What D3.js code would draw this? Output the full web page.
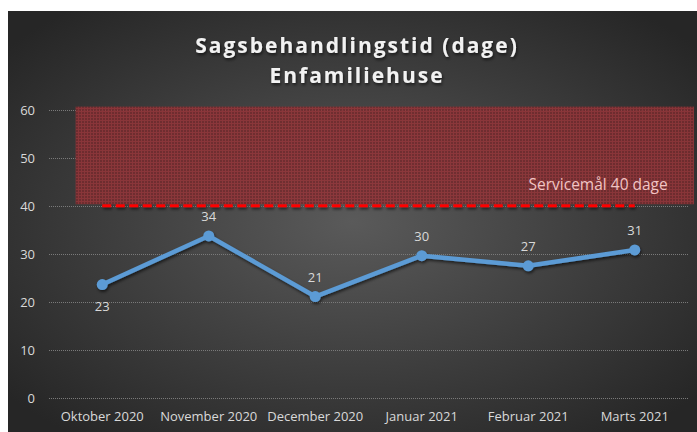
<!DOCTYPE html>
<html>
<head>
<meta charset="utf-8">
<script src="https://cdn.jsdelivr.net/npm/d3@7"></script>
<style>
  body { margin: 0; background: #fff; }
  svg { display: block; font-family: "Open Sans", sans-serif; }
</style>
</head>
<body>
<div class="content"></div>
<script>
var size = {width: 697, height: 432};
var padding = {left: 49, right: 9, top: 110, bottom: 34};

var months = ["Oktober 2020", "November 2020", "December 2020", "Januar 2021", "Februar 2021", "Marts 2021"];
var days = [23.6, 33.7, 21.1, 29.6, 27.5, 30.8];
var dayLabels = ["23", "34", "21", "30", "27", "31"];
var target = [40, 40, 40, 40, 40, 40];
var targetBand = [40.3, 60.6];
var yTicks = [0, 10, 20, 30, 40, 50, 60];

var chart = d3.select('.content')
    .append('svg')
    .attr('width', size.width)
    .attr('height', size.height);

var defs = chart.append('defs');
var grad = defs.append('radialGradient')
    .attr('id', 'bg')
    .attr('cx', '50%').attr('cy', '50%').attr('r', '65%');
grad.append('stop').attr('offset', '0%').attr('stop-color', '#5a5a5a');
grad.append('stop').attr('offset', '100%').attr('stop-color', '#262626');

var pat = defs.append('pattern')
    .attr('id', 'hatch')
    .attr('width', 3).attr('height', 3)
    .attr('patternUnits', 'userSpaceOnUse');
pat.append('rect').attr('width', 3).attr('height', 3).attr('fill', '#742b2e');
pat.append('path').attr('d', 'M0,0.5H3M0.5,0V3')
    .attr('stroke', '#923539').attr('stroke-width', 1);

// user space filter so the flat target line does not vanish
var shadow = defs.append('filter').attr('id', 'shadow')
    .attr('filterUnits', 'userSpaceOnUse')
    .attr('x', 0).attr('y', 0).attr('width', size.width).attr('height', size.height);
shadow.append('feDropShadow')
    .attr('dx', 1).attr('dy', 2).attr('stdDeviation', 1.5)
    .attr('flood-color', '#000').attr('flood-opacity', 0.6);

chart.append('rect')
    .attr('x', 8).attr('y', 11)
    .attr('width', size.width - 8).attr('height', size.height - 11)
    .attr('fill', 'url(#bg)');

var xScale = d3.scaleBand()
    .domain(months)
    .range([padding.left, size.width - padding.right]);
var yScale = d3.scaleLinear()
    .domain([0, 60])
    .range([size.height - padding.bottom, padding.top - 0.5]);
var cx = function(d) { return xScale(d) + xScale.bandwidth() / 2; };

// gridlines
chart.append('g').selectAll('line')
    .data(yTicks)
    .enter().append('line')
    .attr('x1', padding.left).attr('x2', size.width - padding.right)
    .attr('y1', function(d) { return Math.round(yScale(d)) + 0.5; })
    .attr('y2', function(d) { return Math.round(yScale(d)) + 0.5; })
    .attr('stroke', '#7a7a7a')
    .attr('stroke-width', 1)
    .attr('stroke-dasharray', '1,1');

// y labels
chart.append('g').selectAll('text')
    .data(yTicks)
    .enter().append('text')
    .attr('x', 35)
    .attr('y', function(d) { return yScale(d) + 5; })
    .attr('text-anchor', 'end')
    .attr('fill', '#d9d9d9')
    .style('font-size', '13px')
    .text(function(d) { return d; });

// x labels
chart.append('g').selectAll('text')
    .data(months)
    .enter().append('text')
    .attr('x', cx)
    .attr('y', 421)
    .attr('text-anchor', 'middle')
    .attr('fill', '#d9d9d9')
    .style('font-size', '13px')
    .text(function(d) { return d; });

// service band
var bandLeft = xScale(months[0]) + xScale.bandwidth() / 4;
chart.append('rect')
    .attr('x', bandLeft)
    .attr('y', yScale(targetBand[1]))
    .attr('width', size.width - 3 - bandLeft)
    .attr('height', yScale(targetBand[0]) - yScale(targetBand[1]))
    .attr('fill', 'url(#hatch)')
    .attr('opacity', 0.9);

chart.append('text')
    .attr('x', cx(months[5]) + 33)
    .attr('y', yScale(targetBand[0]) - 14)
    .attr('text-anchor', 'end')
    .attr('fill', '#f2c4c4')
    .style('font-size', '15.5px')
    .text('Servicemål 40 dage');

// target line
var line = d3.line()
    .x(function(d, i) { return cx(months[i]); })
    .y(function(d) { return yScale(d); });

chart.append('path')
    .datum(target)
    .attr('d', line)
    .attr('fill', 'none')
    .attr('stroke', '#ff0000')
    .attr('stroke-width', 3)
    .attr('stroke-dasharray', '9,4.5')
    .attr('filter', 'url(#shadow)');

// series
var series = chart.append('g').attr('filter', 'url(#shadow)');
series.append('path')
    .datum(days)
    .attr('d', line)
    .attr('fill', 'none')
    .attr('stroke', '#5b9bd5')
    .attr('stroke-width', 4.5)
    .attr('stroke-linejoin', 'round');
series.selectAll('circle')
    .data(days)
    .enter().append('circle')
    .attr('cx', function(d, i) { return cx(months[i]); })
    .attr('cy', function(d) { return yScale(d); })
    .attr('r', 5.5)
    .attr('fill', '#5b9bd5');

chart.append('g').selectAll('text')
    .data(days)
    .enter().append('text')
    .attr('x', function(d, i) { return cx(months[i]); })
    .attr('y', function(d, i) { return i === 0 ? yScale(d) + 26 : yScale(d) - 15; })
    .attr('text-anchor', 'middle')
    .attr('fill', '#d9d9d9')
    .style('font-size', '13px')
    .text(function(d, i) { return dayLabels[i]; });

// title
var title = chart.append('text')
    .attr('x', 357)
    .attr('text-anchor', 'middle')
    .attr('fill', '#f2f2f2')
    .style('font-size', '21px')
    .style('font-weight', 'bold')
    .style('letter-spacing', '2px')
    .attr('filter', 'url(#shadow)');
title.append('tspan').attr('x', 357).attr('y', 53).text('Sagsbehandlingstid (dage)');
title.append('tspan').attr('x', 357).attr('y', 83).text('Enfamiliehuse');
</script>
</body>
</html>
